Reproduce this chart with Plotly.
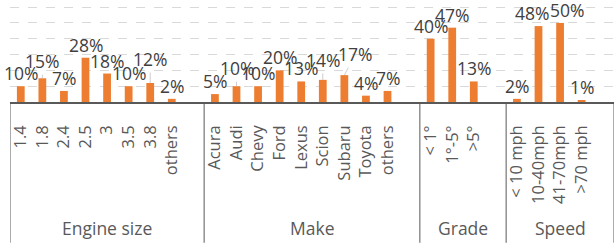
import plotly.graph_objects as go

# ---- data ----
group_names = ["Engine size", "Make", "Grade", "Speed"]
engine_labels = ["1.4", "1.8", "2.4", "2.5", "3", "3.5", "3.8", "others"]
engine_values = [10, 15, 7, 28, 18, 10, 12, 2]
make_labels = ["Acura", "Audi", "Chevy", "Ford", "Lexus", "Scion", "Subaru", "Toyota", "others"]
make_values = [5, 10, 10, 20, 13, 14, 17, 4, 7]
grade_labels = ["< 1°", "1°-5°", ">5°"]
grade_values = [40, 47, 13]
speed_labels = ["< 10 mph", "10-40mph", "41-70mph", ">70 mph"]
speed_values = [2, 48, 50, 1]

groups = [
    (group_names[0], engine_labels, engine_values),
    (group_names[1], make_labels, make_values),
    (group_names[2], grade_labels, grade_values),
    (group_names[3], speed_labels, speed_values),
]

# label nudges (pixels): (dx, extra raise) for labels moved off their default spot
label_nudge = {
    ("Engine size", "1.8"): (0, 6),
    ("Engine size", "3.8"): (0, 13),
    ("Make", "Audi"): (0, 7),
    ("Make", "Scion"): (0, 9),
    ("Make", "Subaru"): (11, 10),
    ("Speed", "10-40mph"): (-7, 0),
    ("Speed", "41-70mph"): (7, 0),
}

BAR = "#ED7D31"
LABEL = "#404040"
AXIS = "#595959"
FONT = "Open Sans"
LSIZE = 17.5

xs, ys, ticktext, keys = [], [], [], []
bounds = []
pos = 0
for gname, labels, values in groups:
    start = pos
    for lab, v in zip(labels, values):
        xs.append(pos)
        ys.append(v)
        ticktext.append(lab)
        keys.append((gname, lab))
        pos += 1
    pos += 1  # empty slot closing each group
    bounds.append((gname, start - 0.5, pos - 0.5))
n_slots = pos

fig = go.Figure()
fig.add_trace(go.Bar(x=xs, y=ys, width=0.36, marker=dict(color=BAR, line=dict(width=0)),
                     hoverinfo="x+y"))

annotations = []
GAP = -1
BOXH = 24
for x, v, key in zip(xs, ys, keys):
    dx, dy = label_nudge.get(key, (0, 0))
    txt = f"{v}%"
    if dy > 0:
        annotations.append(dict(x=x, y=v, xref="x", yref="y", text=txt, showarrow=True,
                                arrowhead=0, arrowwidth=0.8, arrowcolor="#BFBFBF", standoff=0,
                                ax=dx, ay=-(GAP + BOXH / 2 + dy),
                                font=dict(family=FONT, size=LSIZE, color=LABEL)))
    else:
        annotations.append(dict(x=x, y=v, xref="x", yref="y", text=txt, showarrow=False,
                                yanchor="bottom", yshift=GAP, xshift=dx,
                                font=dict(family=FONT, size=LSIZE, color=LABEL)))

shapes = []
for gname, x0, x1 in bounds:
    annotations.append(dict(x=(x0 + x1) / 2, y=0, xref="x", yref="paper", yshift=-126,
                            text=gname, showarrow=False, yanchor="middle",
                            font=dict(family=FONT, size=17.5, color=AXIS)))
    shapes.append(dict(type="line", xref="x", yref="paper", x0=x0, x1=x0, y0=0, y1=-1.38,
                       line=dict(color=AXIS, width=1)))
shapes.append(dict(type="line", xref="x", yref="paper", x0=n_slots - 0.5, x1=n_slots - 0.5,
                   y0=0, y1=-1.38, line=dict(color=AXIS, width=1)))

fig.update_layout(
    width=614, height=244,
    margin=dict(l=10, r=0, t=0, b=142),
    paper_bgcolor="white", plot_bgcolor="white",
    showlegend=False,
    annotations=annotations,
    shapes=shapes,
    xaxis=dict(range=[-0.5, n_slots - 0.5], tickmode="array", tickvals=xs, ticktext=ticktext,
               tickangle=-90, ticks="", showgrid=False, zeroline=False,
               showline=True, linecolor=AXIS, linewidth=1.5, automargin=False,
               tickfont=dict(family=FONT, size=16.5, color=AXIS), ticklabelstandoff=15),
    yaxis=dict(range=[0, 64.5], dtick=10, showticklabels=False, showgrid=True,
               gridcolor="#D9D9D9", griddash="dash", gridwidth=1, zeroline=False,
               showline=False, automargin=False),
)

fig.write_html("out.html", config={"displayModeBar": False},
               post_script="document.body.style.margin='0';document.body.style.overflow='hidden';")
